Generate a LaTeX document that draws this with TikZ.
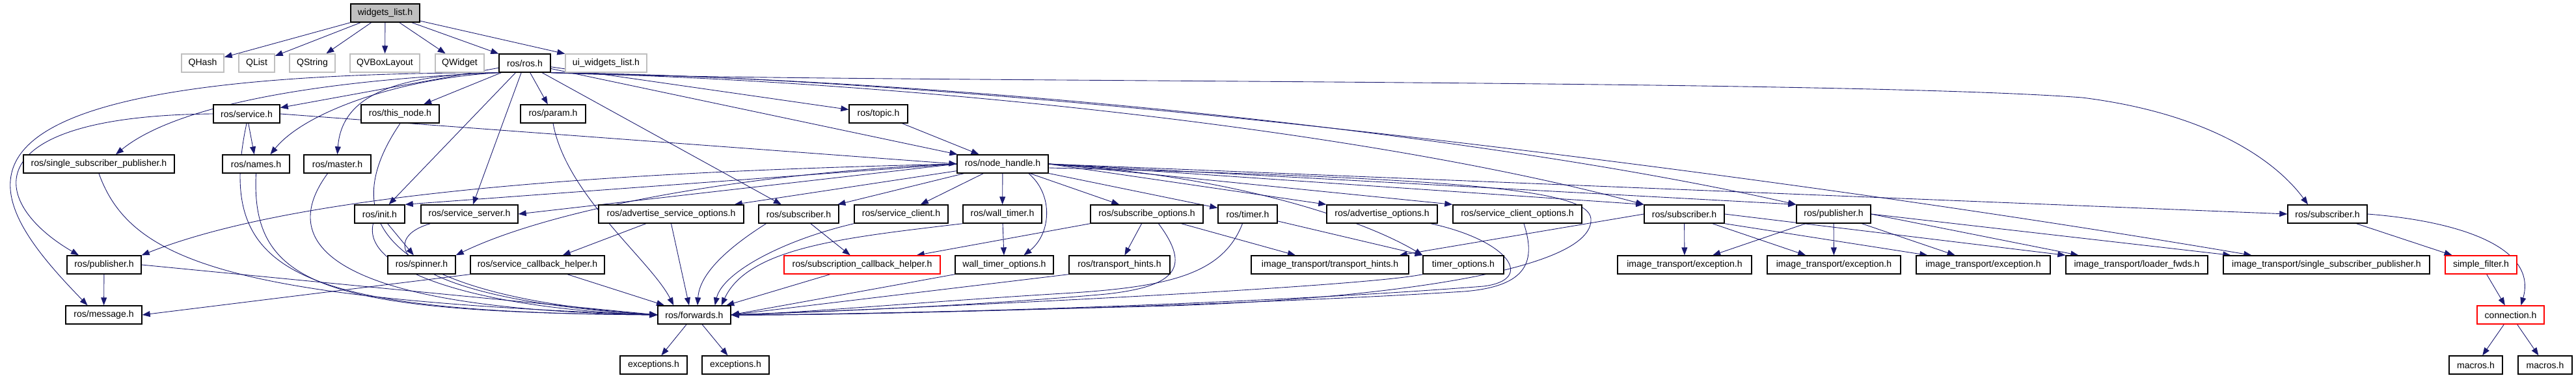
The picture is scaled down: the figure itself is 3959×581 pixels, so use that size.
\documentclass[tikz,border=0pt]{standalone}
\usepackage{fontspec}
\setmainfont{Liberation Sans}
\usetikzlibrary{arrows.meta,calc,backgrounds}
\definecolor{edgec}{HTML}{191970}
\definecolor{gborder}{HTML}{BFBFBF}
\definecolor{rootfill}{HTML}{BFBFBF}
\tikzset{
  nbox/.style={draw=black, line width=0.8pt, fill=white, minimum height=0.56cm, inner sep=0pt, font=\fontsize{8}{9.6}\selectfont, text=black},
  gbox/.style={nbox, draw=gborder},
  rbox/.style={nbox, draw=red},
  rootbox/.style={nbox, fill=rootfill},
  W/.style={minimum width=#1*0.02cm},
  arr/.style={draw=edgec, line width=0.5pt, -{Triangle[length=0.24cm,width=0.18cm]}}
}
\begin{document}
\begin{tikzpicture}[x=0.02cm,y=-0.02cm]
\useasboundingbox (0,0) rectangle (3959,581);
% row 0
\node[rootbox,W=106] (wl) at (592,20) {widgets\_list.h};
% row 1
\node[gbox,W=65] (qhash) at (311.5,97) {QHash};
\node[gbox,W=55] (qlist) at (394.5,97) {QList};
\node[gbox,W=70] (qstring) at (480,97) {QString};
\node[gbox,W=107] (qvbox) at (591.5,97) {QVBoxLayout};
\node[gbox,W=75] (qwidget) at (706.5,97) {QWidget};
\node[nbox,W=79] (ros) at (806.5,97) {ros/ros.h};
\node[gbox,W=125] (ui) at (931.5,97) {ui\_widgets\_list.h};
% row 2
\node[nbox,W=102] (svc) at (379,175) {ros/service.h};
\node[nbox,W=120] (thisnode) at (615,175) {ros/this\_node.h};
\node[nbox,W=100] (param) at (850,175) {ros/param.h};
\node[nbox,W=90] (topic) at (1350,175) {ros/topic.h};
% row 3
\node[nbox,W=232] (sspr) at (152,252) {ros/single\_subscriber\_publisher.h};
\node[nbox,W=103] (names) at (393.5,252) {ros/names.h};
\node[nbox,W=103] (master) at (518.5,252) {ros/master.h};
\node[nbox,W=140] (nh) at (1541,252) {ros/node\_handle.h};
% row 4
\node[nbox,W=77] (init) at (583.5,329) {ros/init.h};
\node[nbox,W=149] (ssrv) at (721.5,329) {ros/service\_server.h};
\node[nbox,W=223] (aso) at (1031.5,329) {ros/advertise\_service\_options.h};
\node[nbox,W=123] (subd) at (1227.5,329) {ros/subscriber.h};
\node[nbox,W=144] (sclient) at (1385,329) {ros/service\_client.h};
\node[nbox,W=121] (wtimer) at (1540.5,329) {ros/wall\_timer.h};
\node[nbox,W=173] (subopt) at (1762.5,329) {ros/subscribe\_options.h};
\node[nbox,W=91] (timer) at (1917.5,329) {ros/timer.h};
\node[nbox,W=170] (advopt) at (2124,329) {ros/advertise\_options.h};
\node[nbox,W=198] (sco) at (2332,329) {ros/service\_client\_options.h};
\node[nbox,W=123] (suba) at (2588.5,329) {ros/subscriber.h};
\node[nbox,W=114] (pubb) at (2818,329) {ros/publisher.h};
\node[nbox,W=122] (subc) at (3577,329) {ros/subscriber.h};
% row 5
\node[nbox,W=114] (publ) at (160,407) {ros/publisher.h};
\node[nbox,W=104] (spin) at (648,407) {ros/spinner.h};
\node[nbox,W=206] (sch) at (826,407) {ros/service\_callback\_helper.h};
\node[rbox,W=240] (subcb) at (1325,407) {ros/subscription\_callback\_helper.h};
\node[nbox,W=151] (wto) at (1543.5,407) {wall\_timer\_options.h};
\node[nbox,W=155] (th) at (1720.5,407) {ros/transport\_hints.h};
\node[nbox,W=242] (itth) at (2044,407) {image\_transport/transport\_hints.h};
\node[nbox,W=124] (topt) at (2249,407) {timer\_options.h};
\node[nbox,W=206] (exa) at (2589,407) {image\_transport/exception.h};
\node[nbox,W=205] (exb) at (2818.5,407) {image\_transport/exception.h};
\node[nbox,W=206] (exc) at (3048,407) {image\_transport/exception.h};
\node[nbox,W=218] (loader) at (3284,407) {image\_transport/loader\_fwds.h};
\node[nbox,W=317] (itssp) at (3575.5,407) {image\_transport/single\_subscriber\_publisher.h};
\node[rbox,W=110] (sfilt) at (3813,407) {simple\_filter.h};
% row 6
\node[nbox,W=117] (msg) at (159.5,484) {ros/message.h};
\node[nbox,W=112] (fwd) at (1067,484) {ros/forwards.h};
\node[rbox,W=103] (conn) at (3858.5,484) {connection.h};
% row 7
\node[nbox,W=103] (exs1) at (1004.5,561) {exceptions.h};
\node[nbox,W=103] (exs2) at (1130.5,561) {exceptions.h};
\node[nbox,W=82] (mac1) at (3805,561) {macros.h};
\node[nbox,W=83] (mac2) at (3911.5,561) {macros.h};

\begin{pgfonlayer}{background}
\fill[white] (0,0) rectangle (3959,581);
% widgets_list.h
\draw[arr] (wl) -- (qhash);
\draw[arr] (wl) -- (qlist);
\draw[arr] (wl) -- (qstring);
\draw[arr] (wl) -- (qvbox);
\draw[arr] (wl) -- (qwidget);
\draw[arr] (wl) -- (ros);
\draw[arr] (wl) -- (ui);
% ros/ros.h
\draw[arr] (ros) -- (svc);
\draw[arr] (ros) -- (thisnode);
\draw[arr] (ros) -- (param);
\draw[arr] (ros) -- (topic);
\draw[arr] (ros) -- (nh);
\draw[arr] (ros) -- (init);
\draw[arr] (ros) -- (ssrv);
\draw[arr] (ros) -- (subd);
\draw[arr] (ros.south west) .. controls (620,120) and (470,170) .. ($(names.north)+(22,0)$);
\draw[arr] (ros.south west) .. controls (600,115) and (525,150) .. (master.north);
\draw[arr] (ros.south west) .. controls (450,125) and (260,170) .. ($(sspr.north)+(26,0)$);
\draw[arr] (ros.south west) .. controls (-160,112) and (-30,300) .. ($(msg.north)+(-25,0)$);
\draw[arr] (ros.south east) .. controls (1200,128) and (2800,120) .. (3200,150) .. controls (3400,175) and (3500,250) .. ($(subc.north)+(-30,0)$);
\draw[arr] (ros.south east) .. controls (1400,125) and (2100,200) .. (suba.north west);
\draw[arr] (ros.south east) .. controls (1500,122) and (2300,210) .. (pubb.north west);
\draw[arr] (ros.south east) .. controls (1600,120) and (2800,280) .. ($(itssp.north west)+(44,0)$);
% ros/service.h
\draw[arr] (svc.east) -- (nh.west);
\draw[arr] (svc) -- (names);
\draw[arr] (svc.west) .. controls (-40,178) and (-20,310) .. ($(publ.north)+(-39,0)$);
\draw[arr] (svc.south) .. controls (330,420) and (450,480) .. (fwd.west);
% topic
\draw[arr] (topic) -- (nh);
% row 2/3 to forwards
\draw[arr] (sspr.south) .. controls (200,400) and (350,460) .. (fwd.west);
\draw[arr] (names.south) .. controls (385,440) and (500,480) .. (fwd.west);
\draw[arr] ($(master.south)+(-15,0)$) .. controls (420,380) and (520,475) .. (fwd.west);
\draw[arr] (thisnode.south) .. controls (540,300) and (520,450) .. (fwd.west);
\draw[arr] (param.south) .. controls (870,300) and (1000,400) .. ($(fwd.north west)+(25,0)$);
% node_handle
\draw[arr] (nh.west) -- (init.north east);
\draw[arr] (nh.west) -- (ssrv.east);
\draw[arr] (nh.west) .. controls (1150,265) and (850,320) .. (spin.north east);
\draw[arr] (nh.west) .. controls (900,265) and (450,300) .. (publ.north east);
\draw[arr] (nh) -- (aso);
\draw[arr] (nh) -- (subd);
\draw[arr] (nh) -- (sclient);
\draw[arr] (nh) -- (wtimer);
\draw[arr] ($(nh.south)+(40,0)$) .. controls (1620,300) and (1615,360) .. ($(wto.north)+(30,0)$);
\draw[arr] (nh) -- (subopt);
\draw[arr] (nh) -- (timer);
\draw[arr] (nh.east) -- (advopt.north west);
\draw[arr] (nh.east) -- (sco.north west);
\draw[arr] (nh.east) .. controls (1900,270) and (2100,340) .. (topt.north west);
\draw[arr] (nh.east) -- (suba.north west);
\draw[arr] (nh.east) -- (pubb.north west);
\draw[arr] (nh.east) -- (subc.west);
\draw[arr] ($(nh.east)+(0,6)$) .. controls (2300,275) and (2450,295) .. (2445,340) .. controls (2440,420) and (2100,460) .. (1800,470) .. controls (1500,478) and (1250,484) .. (fwd.east);
% row 4 (left part)
\draw[arr] (init) -- (spin);
\draw[arr] ($(init.south)+(-10,0)$) .. controls (555,420) and (750,475) .. (fwd.west);
\draw[arr] ($(ssrv.south)+(-60,0)$) .. controls (570,370) and (620,460) .. (fwd.west);
\draw[arr] (publ) -- (msg);
\draw[arr] (publ.east) -- (fwd.west);
\draw[arr] (aso) -- (sch);
\draw[arr] (aso.south) -- ($(fwd.north)+(-8,0)$);
\draw[arr] (sch.south west) -- (msg.east);
\draw[arr] (sch) -- (fwd);
\draw[arr] (subd) -- (subcb);
\draw[arr] ($(subd.south)+(-50,0)$) .. controls (1120,380) and (1075,420) .. ($(fwd.north)+(5,0)$);
\draw[arr] (sclient.south west) .. controls (1200,370) and (1110,420) .. ($(fwd.north east)+(-25,0)$);
\draw[arr] (wtimer.south west) .. controls (1300,365) and (1150,380) .. ($(fwd.north east)+(-15,0)$);
\draw[arr] (wtimer) -- (wto);
\draw[arr] (subopt.south west) -- ($(subcb.north east)+(-37,0)$);
\draw[arr] (subopt) -- (th);
\draw[arr] (subopt) -- (itth);
\draw[arr] ($(subopt.south)+(18,0)$) .. controls (1830,410) and (1810,440) .. (1700,452) .. controls (1500,470) and (1250,480) .. (fwd.east);
\draw[arr] ($(timer.south)+(-8,0)$) .. controls (1880,420) and (1800,440) .. (1650,450) .. controls (1400,465) and (1250,480) .. (fwd.east);
\draw[arr] (timer) -- (topt);
\draw[arr] ($(advopt.south)+(75,0)$) .. controls (2320,370) and (2360,430) .. (2280,440) .. controls (1900,470) and (1300,485) .. (fwd.east);
\draw[arr] ($(sco.south)+(10,0)$) .. controls (2360,400) and (2350,440) .. (2250,448) .. controls (1900,470) and (1300,485) .. (fwd.east);
% row 5 to forwards
\draw[arr] (subcb) -- (fwd);
\draw[arr] (wto.south west) -- (fwd.east);
\draw[arr] (th.south west) -- (fwd.east);
\draw[arr] (topt.south west) .. controls (2100,440) and (1500,470) .. (fwd.east);
\draw[arr] (fwd) -- (exs1);
\draw[arr] (fwd) -- (exs2);
% image_transport subscriber / publisher
\draw[arr] (suba.west) -- ($(itth.north east)+(-15,0)$);
\draw[arr] (suba) -- (exa);
\draw[arr] (suba) -- (exb);
\draw[arr] (suba.south east) -- ($(exc.north west)+(18,0)$);
\draw[arr] (suba.east) -- (loader.north west);
\draw[arr] (pubb) -- (exa);
\draw[arr] (pubb) -- (exb);
\draw[arr] (pubb) -- (exc);
\draw[arr] (pubb.east) -- ($(loader.north west)+(20,0)$);
\draw[arr] (pubb.east) -- ($(itssp.north west)+(12,0)$);
% message_filters
\draw[arr] (subc) -- (sfilt);
\draw[arr] (subc.east) .. controls (3780,340) and (3900,380) .. ($(conn.north)+(16,0)$);
\draw[arr] (sfilt) -- (conn);
\draw[arr] (conn) -- (mac1);
\draw[arr] (conn) -- (mac2);
\end{pgfonlayer}
\end{tikzpicture}
\end{document}
